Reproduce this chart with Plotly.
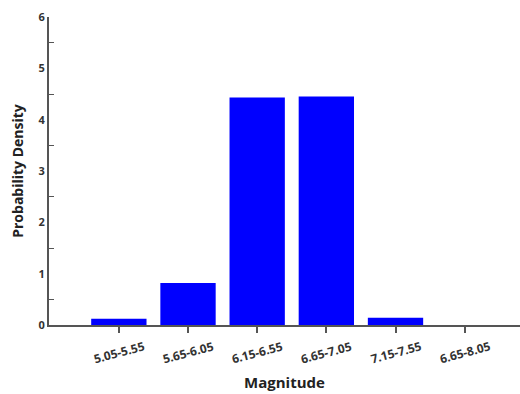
import plotly.graph_objects as go

categories = ["5.05-5.55", "5.65-6.05", "6.15-6.55", "6.65-7.05", "7.15-7.55", "6.65-8.05"]
density = [0.12, 0.82, 4.43, 4.45, 0.14, 0.0]
y_ticks = [0, 1, 2, 3, 4, 5, 6]

fig = go.Figure(go.Bar(
    x=categories, y=density,
    marker=dict(color="#0000FF", line=dict(width=0)),
))

font_family = "Open Sans, Liberation Sans, sans-serif"
fig.update_layout(
    width=520, height=394,
    margin=dict(l=49, r=0, t=17, b=69),
    paper_bgcolor="white", plot_bgcolor="white",
    bargap=0.2,
    showlegend=False,
    font=dict(family=font_family, color="#333333"),
)
# category labels, centered under each tick and slanted
for c in categories:
    fig.add_annotation(
        x=c, xref="x", y=-0.088, yref="paper",
        text=c, showarrow=False, textangle=-15,
        font=dict(size=12, family=font_family, color="#333333", weight="bold"),
        xanchor="center", yanchor="middle",
    )
fig.update_xaxes(
    type="category",
    range=[-1.01, 5.8],
    showline=True, linecolor="#555555", linewidth=2,
    ticks="outside", ticklen=6, tickcolor="#555555", tickwidth=2,
    showticklabels=False,
    showgrid=False, zeroline=False,
    title=dict(text="<b>Magnitude</b>", font=dict(size=15, color="#222222"), standoff=45),
)
fig.update_yaxes(
    range=[0, 6],
    tickvals=y_ticks,
    ticktext=[str(v) for v in y_ticks],
    showline=True, linecolor="#555555", linewidth=2,
    ticks="",
    minor=dict(ticks="inside", tick0=0.5, dtick=1, ticklen=5, tickcolor="#555555", tickwidth=1, showgrid=False),
    tickfont=dict(size=11, family=font_family, color="#333333", weight="bold"),
    showgrid=False, zeroline=False,
    title=dict(text="<b>Probability Density</b>", font=dict(size=14, color="#222222"), standoff=12),
)

fig.write_html("out.html")
